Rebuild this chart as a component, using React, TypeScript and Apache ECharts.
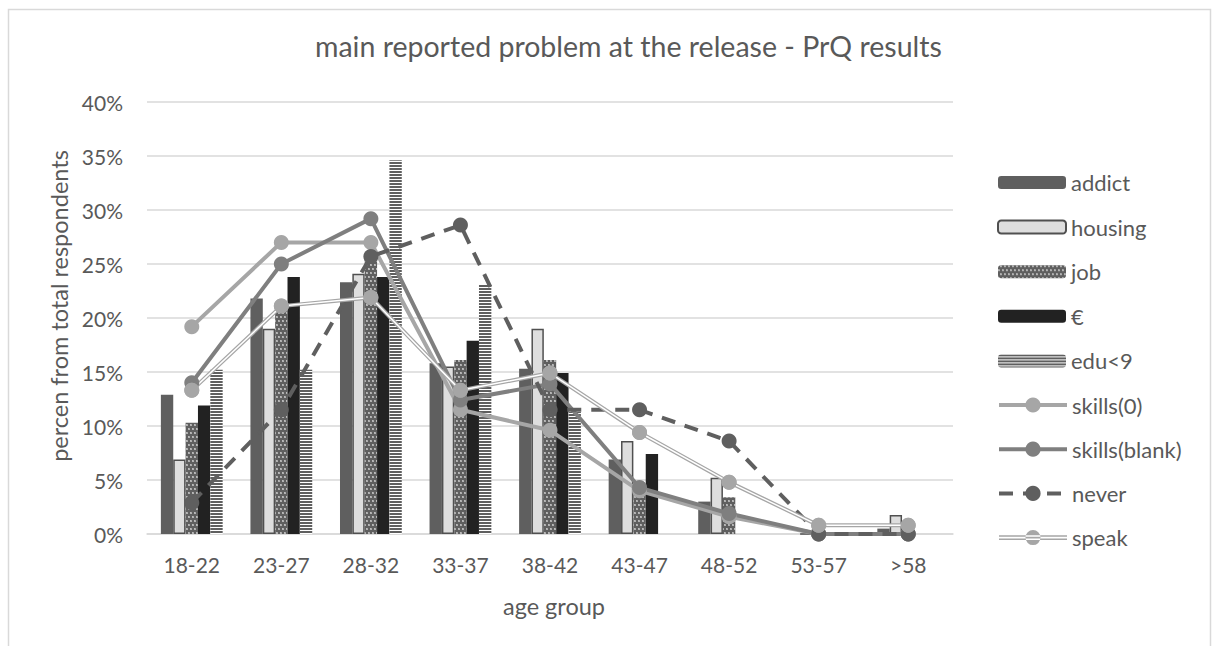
import React, { useEffect, useRef } from "react";
import * as echarts from "echarts";

const categories = ["18-22", "23-27", "28-32", "33-37", "38-42", "43-47", "48-52", "53-57", ">58"];
const addict = [12.9, 21.8, 23.3, 15.8, 15.3, 6.9, 3.0, 0, 0.5];
const housing = [6.9, 19.0, 24.1, 15.5, 19.0, 8.6, 5.2, 0, 1.75];
const job = [10.3, 21.0, 25.6, 16.1, 16.1, 4.0, 3.4, 0, 0];
const euro = [11.9, 23.8, 23.8, 17.9, 14.9, 7.4, 0, 0, 0];
const edu = [15.2, 15.2, 34.6, 23.1, 11.3, 0, 0, 0, 0];
const skills0 = [19.2, 27.0, 27.0, 11.5, 9.6, 4.0, 1.6, 0, 0];
const skillsBlank = [14.0, 25.0, 29.2, 12.4, 13.9, 4.3, 1.9, 0, 0];
const never = [2.9, 11.5, 25.7, 28.6, 11.5, 11.5, 8.6, 0, 0];
const speak = [13.3, 21.1, 21.9, 13.3, 14.9, 9.4, 4.8, 0.8, 0.8];
const yTicks = [0, 5, 10, 15, 20, 25, 30, 35, 40];
const barNames = ["addict", "housing", "job", "€", "edu<9"];

const FONT = "Lato";
const TXT = "#595959";
const SPEAK_ICON =
  "path://M0,7.2H68V8.6H0Z M0,10.4H68V11.8H0Z M26.5,9.5a7.5,7.5 0 1,0 15,0a7.5,7.5 0 1,0 -15,0Z";

export default function App() {
  const ref = useRef<HTMLDivElement>(null);
  useEffect(() => {
    if (!ref.current) return;
    const chart = echarts.init(ref.current, null, { renderer: "svg" });
    const lineBase = (name: string, data: number[], color: string, lineType: any = "solid") => ({
      name,
      type: "line",
      data,
      symbol: "circle",
      symbolSize: 15,
      lineStyle: { color, width: 4, type: lineType },
      itemStyle: { color },
      z: 3,
    });
    chart.setOption({
      animation: false,
      backgroundColor: "#ffffff",
      textStyle: { fontFamily: FONT },
      title: {
        text: "main reported problem at the release - PrQ results",
        left: 310,
        top: 26,
        textStyle: { fontFamily: FONT, fontSize: 28.5, fontWeight: "normal", color: TXT },
      },
      graphic: [
        {
          type: "rect",
          shape: { x: 8.5, y: 9.5, width: 1202, height: 700 },
          style: { fill: "none", stroke: "#d9d9d9", lineWidth: 1.5 },
          silent: true,
        },
      ],
      legend: [
        {
          orient: "vertical",
          left: 992,
          top: 166.5,
          itemWidth: 68,
          itemHeight: 13,
          itemGap: 22.6,
          textStyle: { fontFamily: FONT, fontSize: 22, color: TXT },
          data: barNames,
        },
        {
          orient: "vertical",
          left: 992,
          top: 389,
          itemWidth: 68,
          itemHeight: 19,
          itemGap: 22.2,
          lineStyle: { width: 4 },
          textStyle: { fontFamily: FONT, fontSize: 22, color: TXT },
          data: [
            "skills(0)",
            "skills(blank)",
            "never",
            { name: "speak", icon: SPEAK_ICON },
          ],
        },
      ],
      grid: { left: 147, top: 102, right: 259, bottom: 112 },
      xAxis: {
        type: "category",
        data: categories,
        name: "age group",
        nameLocation: "middle",
        nameGap: 60,
        nameTextStyle: { fontFamily: FONT, fontSize: 23.5, color: TXT, padding: [0, 0, 0, 8] },
        axisLine: { lineStyle: { color: "#d9d9d9", width: 1.5 } },
        axisTick: { show: false },
        axisLabel: { fontFamily: FONT, fontSize: 21, color: TXT, margin: 20 },
      },
      yAxis: {
        type: "value",
        min: 0,
        max: 40,
        interval: 5,
        name: "percen from total respondents",
        nameLocation: "middle",
        nameGap: 72,
        nameTextStyle: { fontFamily: FONT, fontSize: 23.5, color: TXT, padding: [0, 0, 0, 24] },
        axisLine: { show: false },
        axisTick: { show: false },
        axisLabel: {
          fontFamily: FONT,
          fontSize: 21,
          color: TXT,
          margin: 24,
          formatter: (v: number) => (yTicks.includes(v) ? v + "%" : ""),
        },
        splitLine: { lineStyle: { color: "#d9d9d9", width: 1.5 } },
      },
      series: [
        {
          name: "addict",
          type: "bar",
          data: addict,
          barGap: "0%",
          barCategoryGap: "31%",
          itemStyle: { color: "#5f5f5f" },
        },
        {
          name: "housing",
          type: "bar",
          data: housing,
          itemStyle: { color: "#dedede", borderColor: "#505050", borderWidth: 1.5 },
        },
        {
          name: "job",
          type: "bar",
          data: job,
          itemStyle: {
            color: "#5f5f5f",
            decal: {
              symbol: "circle",
              symbolSize: 0.75,
              color: "#ffffff",
              dashArrayX: [[2, 2], [0, 2, 2, 0]],
              dashArrayY: [2, 2],
            },
          },
        },
        {
          name: "€",
          type: "bar",
          data: euro,
          itemStyle: { color: "#222222" },
        },
        {
          name: "edu<9",
          type: "bar",
          data: edu,
          itemStyle: {
            color: "#ffffff",
            decal: {
              symbol: "rect",
              symbolSize: 1,
              color: "#5f5f5f",
              dashArrayX: [1, 0],
              dashArrayY: [2, 1],
            },
          },
        },
        lineBase("skills(0)", skills0, "#a6a6a6"),
        lineBase("skills(blank)", skillsBlank, "#7f7f7f"),
        lineBase("never", never, "#5f5f5f", [14, 10]),
        lineBase("speak", speak, "#a6a6a6"),
        {
          name: "speak-inner",
          type: "line",
          data: speak,
          symbol: "none",
          lineStyle: { color: "#ffffff", width: 1.5 },
          z: 3,
          silent: true,
        },
        {
          name: "speak-markers",
          type: "line",
          data: speak,
          symbol: "circle",
          symbolSize: 15,
          lineStyle: { opacity: 0, width: 0 },
          itemStyle: { color: "#a6a6a6" },
          z: 3,
          silent: true,
        },
      ],
    });
    return () => chart.dispose();
  }, []);
  return (
    <div
      ref={ref}
      style={{ position: "fixed", left: 0, top: 0, width: 1212, height: 646 }}
    />
  );
}
